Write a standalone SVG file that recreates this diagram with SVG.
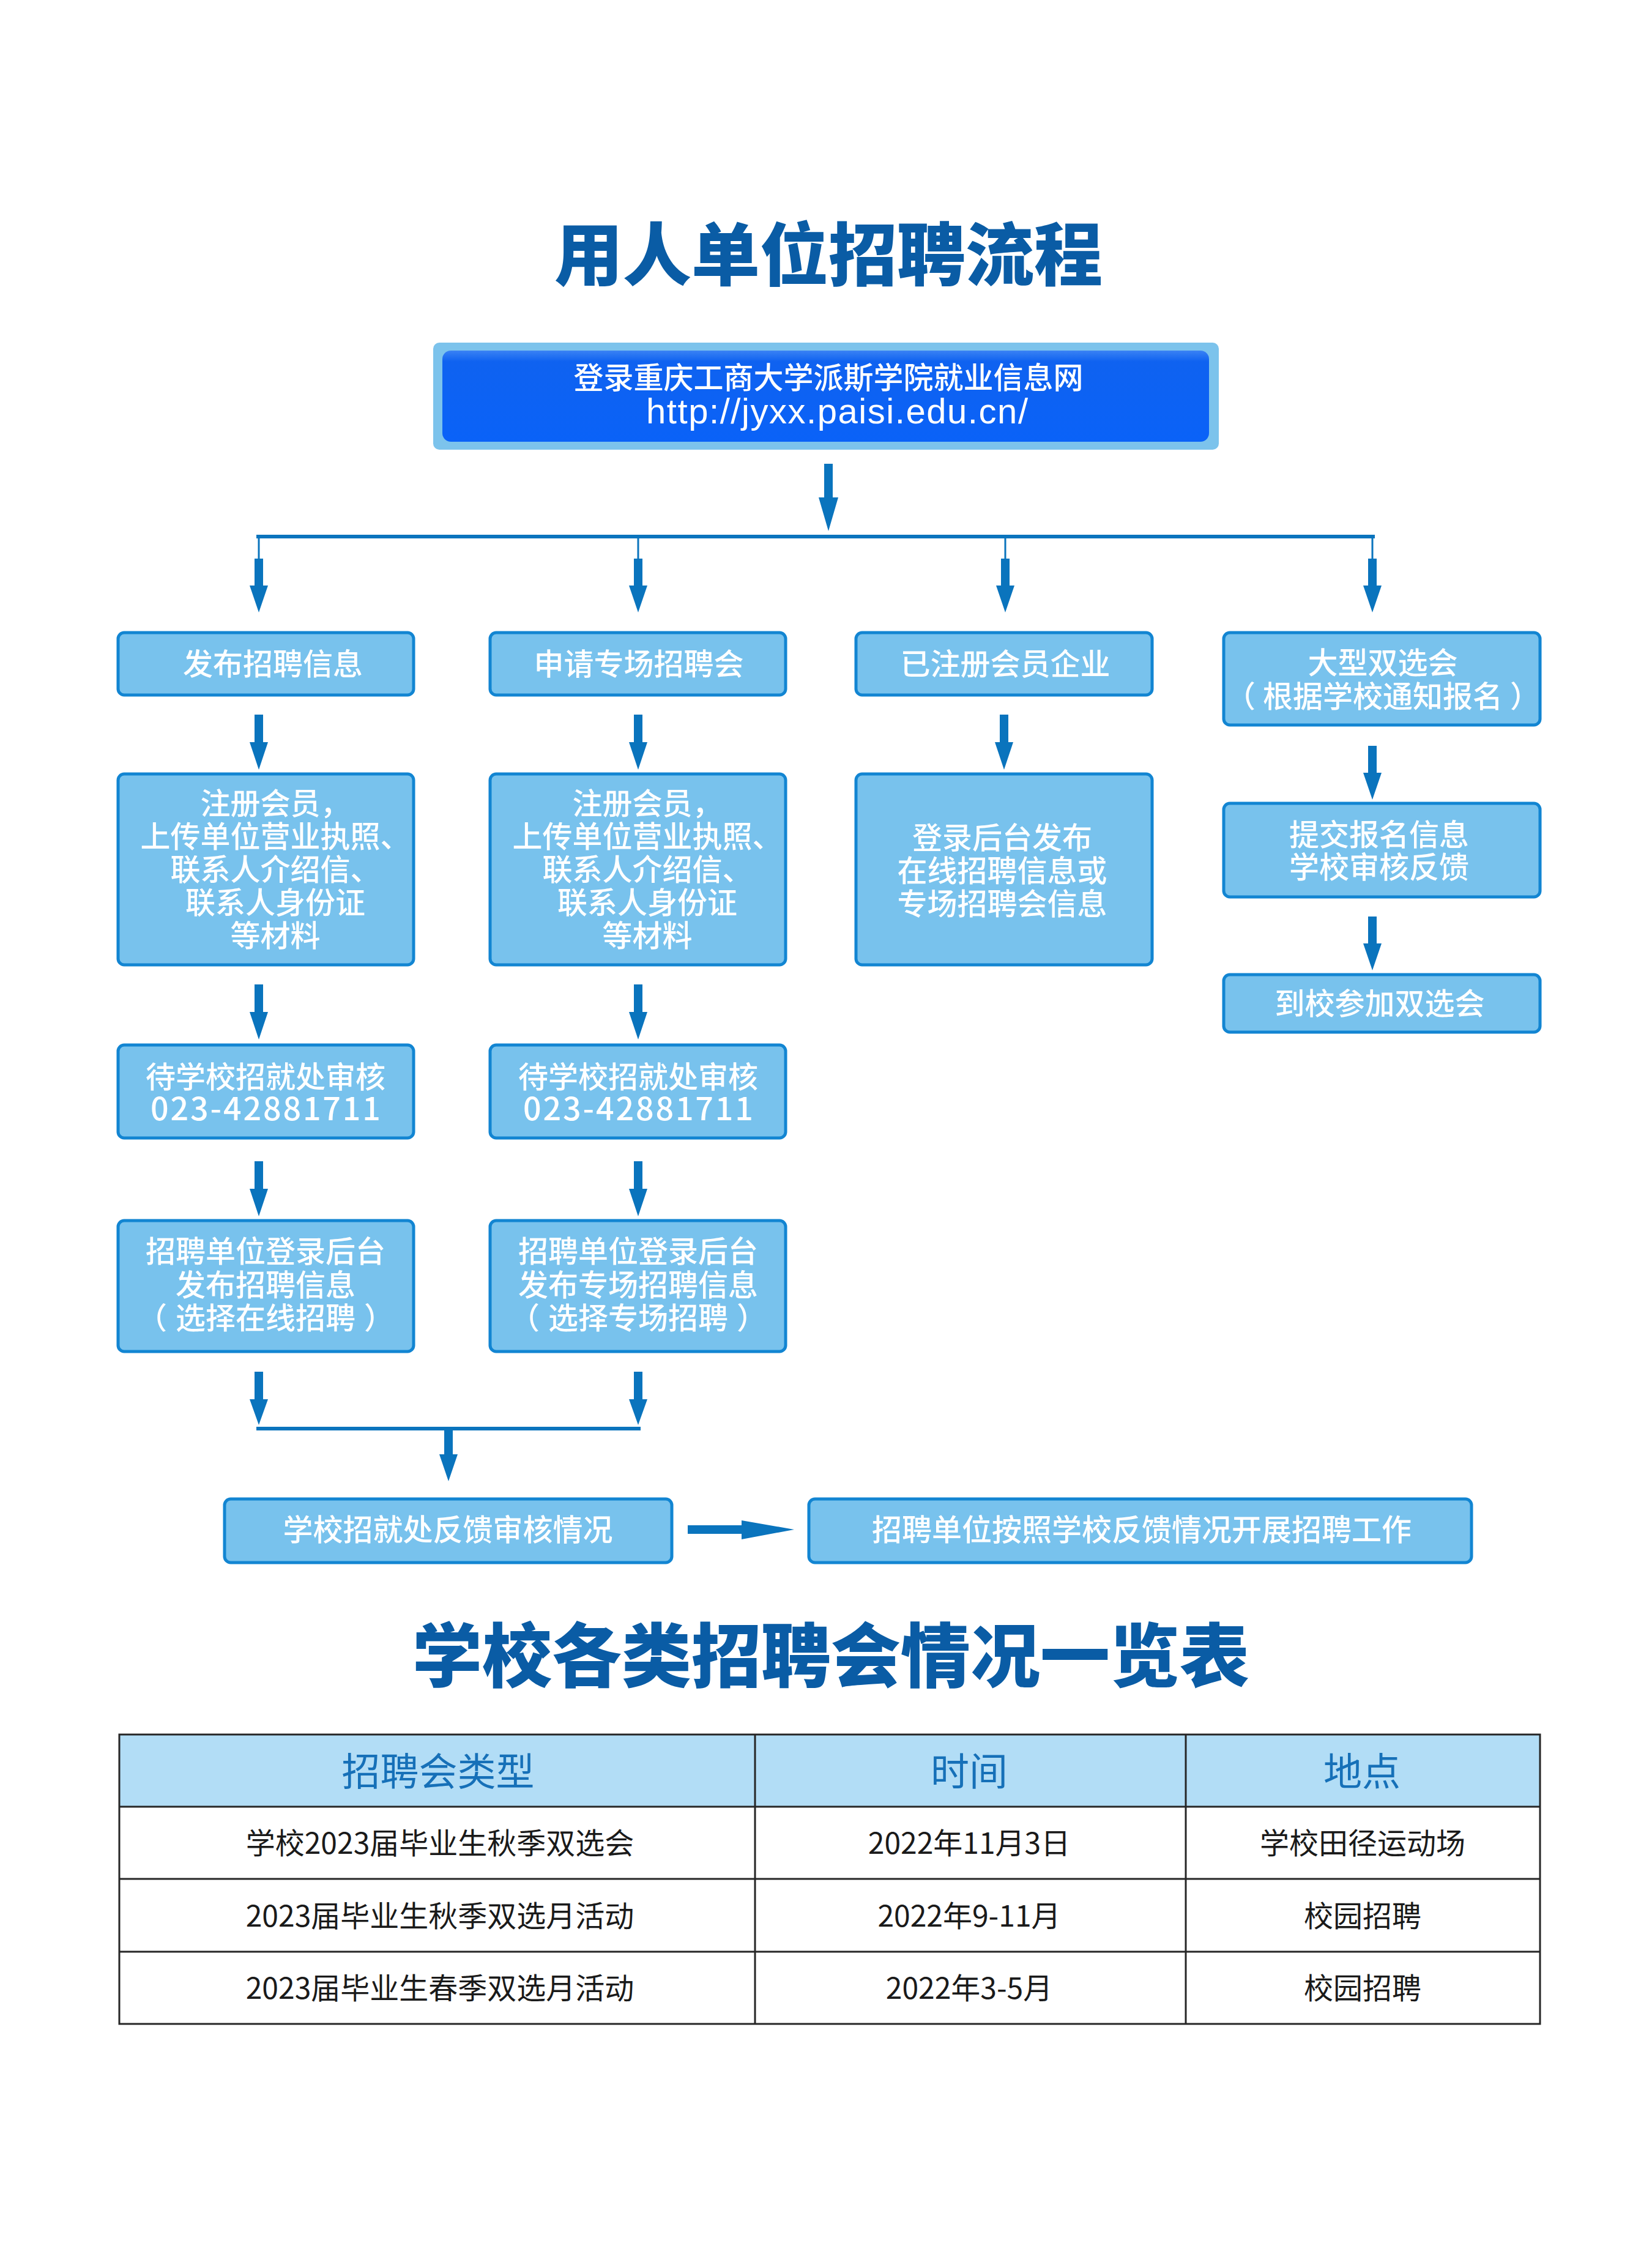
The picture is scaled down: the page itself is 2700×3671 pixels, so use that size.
<svg xmlns="http://www.w3.org/2000/svg" width="2700" height="3671" viewBox="0 0 2700 3671">
<defs>
<linearGradient id="gTop" x1="0" y1="0" x2="0" y2="1">
<stop offset="0" stop-color="#3A82F4"/>
<stop offset="0.12" stop-color="#0F62F0"/>
<stop offset="1" stop-color="#0A62F8"/>
</linearGradient>
<style>
.ttl{font-family:"Noto Sans CJK SC","Noto Sans CJK TC",sans-serif;font-weight:900;fill:#0A5CA5;text-anchor:middle}
.bx{fill:#78C2ED;stroke:#1285D2;stroke-width:5}
.bt{font-family:"Noto Sans CJK SC","Noto Sans CJK TC",sans-serif;font-size:49px;font-weight:500;fill:#FFFFFF;text-anchor:middle}
.arr{fill:#0A74BD}
.ln{stroke:#0A74BD;stroke-width:3;fill:none}
.th{font-family:"Noto Sans CJK SC","Noto Sans CJK TC",sans-serif;font-size:63px;fill:#1670B8;text-anchor:middle}
.td{font-family:"Noto Sans CJK SC","Noto Sans CJK TC",sans-serif;font-size:48px;fill:#1A1A1A;text-anchor:middle}
.grid{stroke:#262626;stroke-width:3;fill:none}
</style>
</defs>
<rect x="0" y="0" width="2700" height="3671" fill="#FFFFFF"/>

<text class="ttl" x="1354" y="458" font-size="112">用人单位招聘流程</text>

<g id="n_top">
<rect x="708" y="560" width="1284" height="175" rx="10" fill="#7CC3EC"/>
<rect x="723" y="573" width="1253" height="149" rx="14" fill="url(#gTop)"/>
<text class="bt" x="1354" y="635" font-size="50"><tspan x="1354">登录重庆工商大学派斯学院就业信息网</tspan><tspan x="1368" dy="57" font-family="Liberation Sans, Arial, sans-serif" font-size="58" font-weight="400" textLength="624" lengthAdjust="spacing">http://jyxx.paisi.edu.cn/</tspan></text>
</g>

<g id="connectors">
<path class="arr" d="M1347 758 H1361 V813 H1370 L1354 868 L1338 813 H1347 Z"/>
<rect class="arr" x="419" y="874" width="1828" height="6"/>
<line class="ln" x1="423" y1="878" x2="423" y2="915"/>
<line class="ln" x1="1043" y1="878" x2="1043" y2="915"/>
<line class="ln" x1="1643" y1="878" x2="1643" y2="915"/>
<line class="ln" x1="2243" y1="878" x2="2243" y2="915"/>
<path class="arr" d="M416 913 H430 V957 H438 L423 1001 L408 957 H416 Z"/>
<path class="arr" d="M1036 913 H1050 V957 H1058 L1043 1001 L1028 957 H1036 Z"/>
<path class="arr" d="M1636 913 H1650 V957 H1658 L1643 1001 L1628 957 H1636 Z"/>
<path class="arr" d="M2236 913 H2250 V957 H2258 L2243 1001 L2228 957 H2236 Z"/>

<path class="arr" d="M416 1168 H430 V1213 H438 L423 1258 L408 1213 H416 Z"/>
<path class="arr" d="M1036 1168 H1050 V1213 H1058 L1043 1258 L1028 1213 H1036 Z"/>
<path class="arr" d="M1634 1168 H1648 V1213 H1656 L1641 1258 L1626 1213 H1634 Z"/>
<path class="arr" d="M2236 1219 H2250 V1263 H2258 L2243 1307 L2228 1263 H2236 Z"/>
<path class="arr" d="M2236 1498 H2250 V1542 H2258 L2243 1586 L2228 1542 H2236 Z"/>

<path class="arr" d="M416 1609 H430 V1654 H438 L423 1699 L408 1654 H416 Z"/>
<path class="arr" d="M1036 1609 H1050 V1654 H1058 L1043 1699 L1028 1654 H1036 Z"/>
<path class="arr" d="M416 1898 H430 V1943 H438 L423 1988 L408 1943 H416 Z"/>
<path class="arr" d="M1036 1898 H1050 V1943 H1058 L1043 1988 L1028 1943 H1036 Z"/>
<path class="arr" d="M416 2242 H430 V2287 H438 L423 2329 L408 2287 H416 Z"/>
<path class="arr" d="M1036 2242 H1050 V2287 H1058 L1043 2329 L1028 2287 H1036 Z"/>
<rect class="arr" x="419" y="2332" width="628" height="6"/>
<path class="arr" d="M726 2336 H740 V2377 H748 L733 2421 L718 2377 H726 Z"/>
<path class="arr" d="M1124 2493 H1212 V2485 L1298 2500 L1212 2516 V2507 H1124 Z"/>
</g>

<g id="n_fabu">
<rect class="bx" x="193" y="1034" width="483" height="102" rx="10"/>
<text class="bt" x="446" y="1103">发布招聘信息</text>
</g>
<g id="n_shenqing">
<rect class="bx" x="801" y="1034" width="483" height="102" rx="10"/>
<text class="bt" x="1044" y="1103">申请专场招聘会</text>
</g>
<g id="n_yizhuce">
<rect class="bx" x="1399" y="1034" width="484" height="102" rx="10"/>
<text class="bt" x="1643" y="1103">已注册会员企业</text>
</g>
<g id="n_daxing">
<rect class="bx" x="2000" y="1034" width="517" height="151" rx="10"/>
<text class="bt" x="2260" y="1101"><tspan x="2260">大型双选会</tspan><tspan x="2260" dy="55">（</tspan><tspan dx="12">根据学校通知报名</tspan><tspan dx="12">）</tspan></text>
</g>

<g id="n_zhuce1">
<rect class="bx" x="193" y="1265" width="483" height="312" rx="10"/>
<text class="bt" x="450" y="1331"><tspan x="450">注册会员，</tspan><tspan x="450" dy="54">上传单位营业执照、</tspan><tspan x="450" dy="54">联系人介绍信、</tspan><tspan x="450" dy="54">联系人身份证</tspan><tspan x="450" dy="54">等材料</tspan></text>
</g>
<g id="n_zhuce2">
<rect class="bx" x="801" y="1265" width="483" height="312" rx="10"/>
<text class="bt" x="1058" y="1331"><tspan x="1058">注册会员，</tspan><tspan x="1058" dy="54">上传单位营业执照、</tspan><tspan x="1058" dy="54">联系人介绍信、</tspan><tspan x="1058" dy="54">联系人身份证</tspan><tspan x="1058" dy="54">等材料</tspan></text>
</g>
<g id="n_denglu">
<rect class="bx" x="1399" y="1265" width="484" height="312" rx="10"/>
<text class="bt" x="1638" y="1387"><tspan x="1638">登录后台发布</tspan><tspan x="1638" dy="54">在线招聘信息或</tspan><tspan x="1638" dy="54">专场招聘会信息</tspan></text>
</g>
<g id="n_tijiao">
<rect class="bx" x="2000" y="1313" width="517" height="153" rx="10"/>
<text class="bt" x="2254" y="1382"><tspan x="2254">提交报名信息</tspan><tspan x="2254" dy="53">学校审核反馈</tspan></text>
</g>
<g id="n_daoxiao">
<rect class="bx" x="2000" y="1593" width="517" height="94" rx="10"/>
<text class="bt" x="2255" y="1658">到校参加双选会</text>
</g>

<g id="n_daishen1">
<rect class="bx" x="193" y="1708" width="483" height="152" rx="10"/>
<text class="bt" x="434" y="1778"><tspan x="434">待学校招就处审核</tspan><tspan x="434" dy="53" font-size="52" textLength="376" lengthAdjust="spacing">023-42881711</tspan></text>
</g>
<g id="n_daishen2">
<rect class="bx" x="801" y="1708" width="483" height="152" rx="10"/>
<text class="bt" x="1043" y="1778"><tspan x="1043">待学校招就处审核</tspan><tspan x="1043" dy="53" font-size="52" textLength="376" lengthAdjust="spacing">023-42881711</tspan></text>
</g>

<g id="n_fabu_online">
<rect class="bx" x="193" y="1995" width="483" height="214" rx="10"/>
<text class="bt" x="434" y="2063"><tspan x="434">招聘单位登录后台</tspan><tspan x="434" dy="55">发布招聘信息</tspan><tspan x="434" dy="54">（</tspan><tspan dx="14">选择在线招聘</tspan><tspan dx="14">）</tspan></text>
</g>
<g id="n_fabu_special">
<rect class="bx" x="801" y="1995" width="483" height="214" rx="10"/>
<text class="bt" x="1043" y="2063"><tspan x="1043">招聘单位登录后台</tspan><tspan x="1043" dy="55">发布专场招聘信息</tspan><tspan x="1043" dy="54">（</tspan><tspan dx="14">选择专场招聘</tspan><tspan dx="14">）</tspan></text>
</g>

<g id="n_fankui">
<rect class="bx" x="367" y="2450" width="731" height="104" rx="10"/>
<text class="bt" x="732" y="2518">学校招就处反馈审核情况</text>
</g>
<g id="n_kaizhan">
<rect class="bx" x="1322" y="2450" width="1083" height="104" rx="10"/>
<text class="bt" x="1866" y="2518">招聘单位按照学校反馈情况开展招聘工作</text>
</g>

<text class="ttl" x="1358" y="2748" font-size="114">学校各类招聘会情况一览表</text>

<g id="table">
<rect x="195" y="2835" width="2322" height="118" fill="#B2DDF6"/>
<rect class="grid" x="195" y="2835" width="2322" height="473"/>
<line class="grid" x1="195" y1="2953" x2="2517" y2="2953"/>
<line class="grid" x1="195" y1="3071" x2="2517" y2="3071"/>
<line class="grid" x1="195" y1="3190" x2="2517" y2="3190"/>
<line class="grid" x1="1234" y1="2835" x2="1234" y2="3308"/>
<line class="grid" x1="1938" y1="2835" x2="1938" y2="3308"/>
<text class="th" x="716" y="2918">招聘会类型</text>
<text class="th" x="1584" y="2918">时间</text>
<text class="th" x="2226" y="2918">地点</text>
<text class="td" x="719" y="3030">学校2023届毕业生秋季双选会</text>
<text class="td" x="1584" y="3030">2022年11月3日</text>
<text class="td" x="2227" y="3030">学校田径运动场</text>
<text class="td" x="719" y="3149">2023届毕业生秋季双选月活动</text>
<text class="td" x="1584" y="3149">2022年9-11月</text>
<text class="td" x="2227" y="3149">校园招聘</text>
<text class="td" x="719" y="3267">2023届毕业生春季双选月活动</text>
<text class="td" x="1584" y="3267">2022年3-5月</text>
<text class="td" x="2227" y="3267">校园招聘</text>
</g>
</svg>
